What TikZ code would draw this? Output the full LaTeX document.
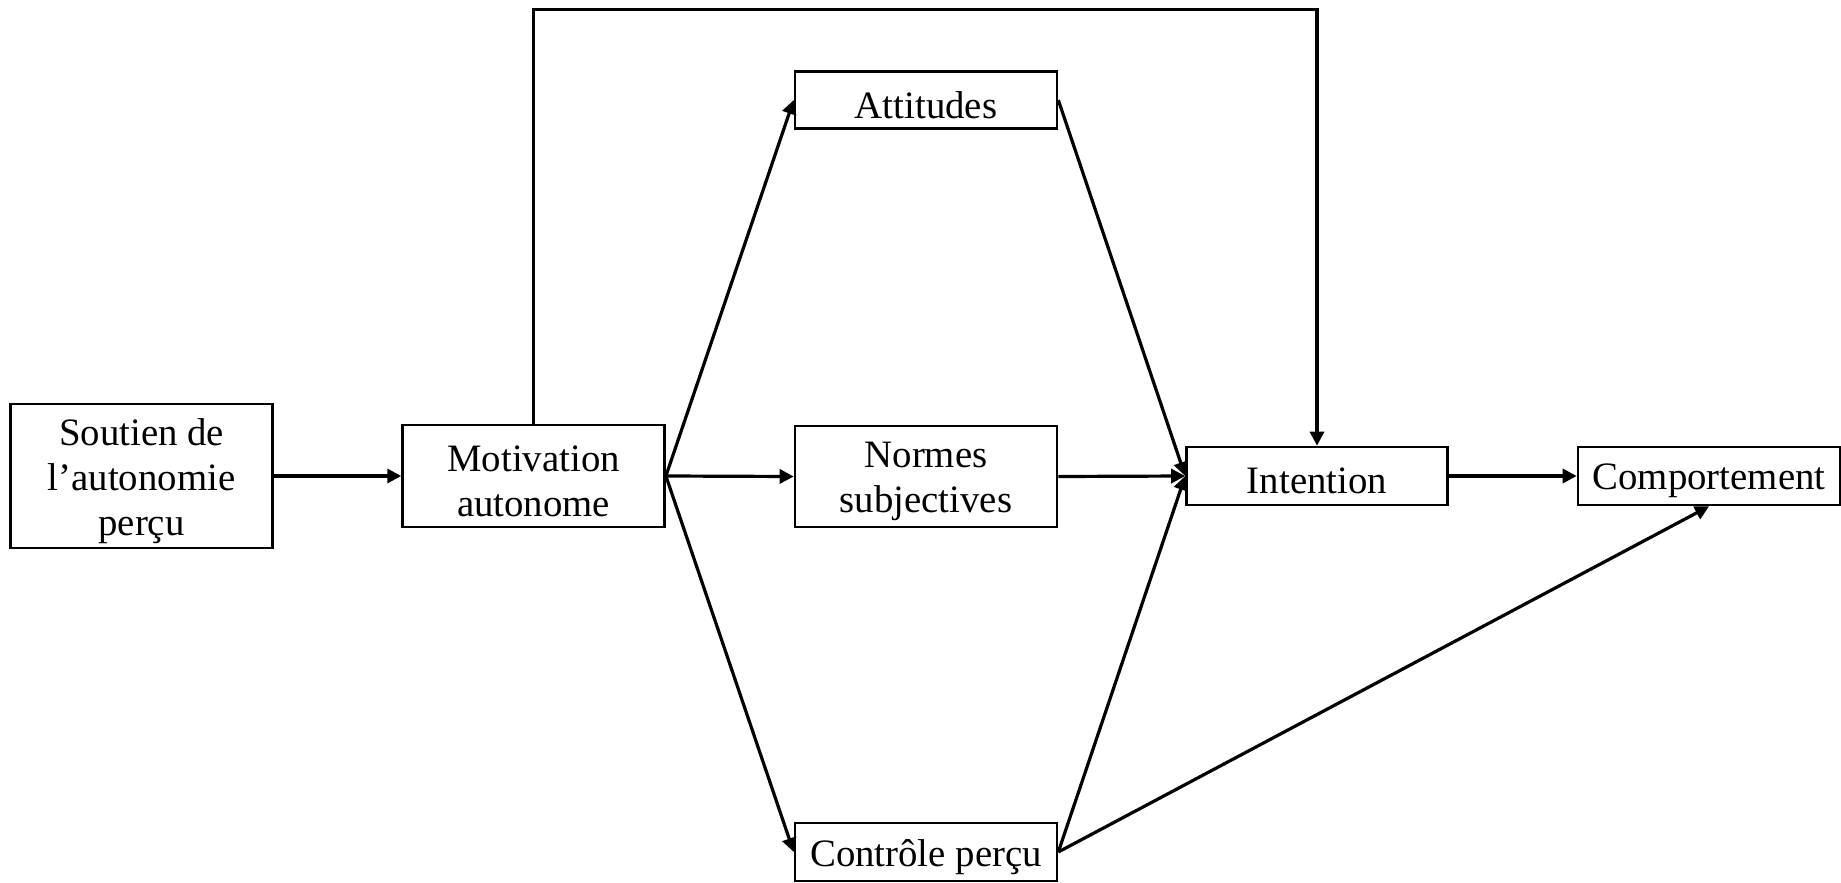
\documentclass[tikz,border=0pt]{standalone}
\usepackage{fontspec}
\setmainfont{Liberation Serif}
\usetikzlibrary{arrows.meta,calc}
\begin{document}
\begin{tikzpicture}[x=0.5pt,y=-0.5pt,
  box/.style={draw,line width=1.3pt,align=center,inner sep=0pt,font=\fontsize{19.4}{22.5}\selectfont},
  arr/.style={line width=1.6pt,-{Triangle[length=7pt,width=7pt]}}]
\useasboundingbox (0,0) rectangle (1841,883);
\newcommand{\dn}[1]{\raisebox{-2.5pt}[\height][\depth]{#1}}
\node[box,minimum width=131pt,minimum height=72pt] (sout) at (141.5,476) {\dn{Soutien de}\\\dn{l’autonomie}\\\dn{perçu}};
\node[box,minimum width=131pt,minimum height=51pt] (mot) at (533.6,476) {\dn{Motivation}\\\dn{autonome}};
\node[box,minimum width=131pt,minimum height=28.5pt] (att) at (926,100) {\dn{Attitudes}};
\node[box,minimum width=131pt,minimum height=50.5pt] (norm) at (926,476.5) {\dn{Normes}\\\dn{subjectives}};
\node[box,minimum width=131pt,minimum height=29pt] (ctrl) at (926,852) {\dn{Contrôle perçu}};
\node[box,minimum width=130.5pt,minimum height=29pt] (int) at (1317,476) {\dn{Intention}};
\node[box,minimum width=131pt,minimum height=29pt] (comp) at (1709,476) {\dn{Comportement}};
\coordinate (topL) at (533.6,9.4);
\draw[arr] (sout.east) -- (mot.west);
\draw[arr] (mot.east) -- (att.west);
\draw[arr] (mot.east) -- (norm.west);
\draw[arr] (mot.east) -- (ctrl.west);
\draw[arr] (att.east) -- (int.west);
\draw[arr] (norm.east) -- (int.west);
\draw[arr] (ctrl.east) -- (int.west);
\draw[arr] (ctrl.east) -- (comp.south);
\draw[arr] (int.east) -- (comp.west);
\draw[arr] (mot.north) -- (topL) -| (int.north);
\end{tikzpicture}
\end{document}
